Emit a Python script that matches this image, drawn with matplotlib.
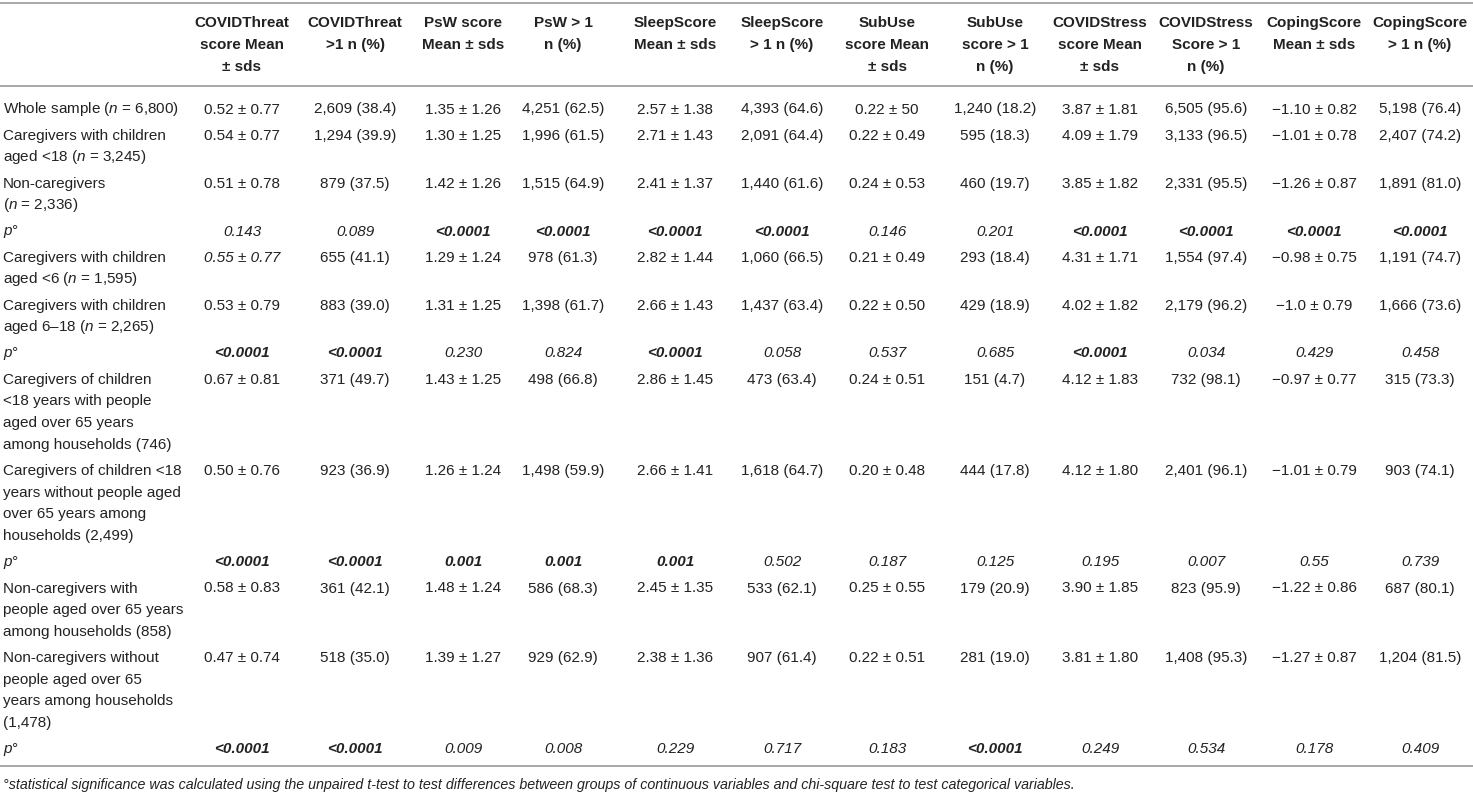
import matplotlib
matplotlib.use("Agg")
import matplotlib.pyplot as plt

plt.rcParams["font.family"] = ["Liberation Sans", "DejaVu Sans"]
plt.rcParams["mathtext.fontset"] = "custom"
plt.rcParams["mathtext.rm"] = "Liberation Sans"
plt.rcParams["mathtext.it"] = "Liberation Sans:italic"

# Table content
headers = [
    "COVIDThreat\nscore Mean\n± sds", "COVIDThreat\n>1 n (%)", "PsW score\nMean ± sds",
    "PsW > 1\nn (%)", "SleepScore\nMean ± sds", "SleepScore\n> 1 n (%)",
    "SubUse\nscore Mean\n± sds", "SubUse\nscore > 1\nn (%)", "COVIDStress\nscore Mean\n± sds",
    "COVIDStress\nScore > 1\nn (%)", "CopingScore\nMean ± sds", "CopingScore\n> 1 n (%)",
]

row_labels = [
    "Whole sample ($n$ = 6,800)",
    "Caregivers with children\naged <18 ($n$ = 3,245)",
    "Non-caregivers\n($n$ = 2,336)",
    "p°",
    "Caregivers with children\naged <6 ($n$ = 1,595)",
    "Caregivers with children\naged 6–18 ($n$ = 2,265)",
    "p°",
    "Caregivers of children\n<18 years with people\naged over 65 years\namong households (746)",
    "Caregivers of children <18\nyears without people aged\nover 65 years among\nhouseholds (2,499)",
    "p°",
    "Non-caregivers with\npeople aged over 65 years\namong households (858)",
    "Non-caregivers without\npeople aged over 65\nyears among households\n(1,478)",
    "p°",
]

whole = ["0.52 ± 0.77", "2,609 (38.4)", "1.35 ± 1.26", "4,251 (62.5)", "2.57 ± 1.38", "4,393 (64.6)",
         "0.22 ± 50", "1,240 (18.2)", "3.87 ± 1.81", "6,505 (95.6)", "−1.10 ± 0.82", "5,198 (76.4)"]
care_u18 = ["0.54 ± 0.77", "1,294 (39.9)", "1.30 ± 1.25", "1,996 (61.5)", "2.71 ± 1.43", "2,091 (64.4)",
            "0.22 ± 0.49", "595 (18.3)", "4.09 ± 1.79", "3,133 (96.5)", "−1.01 ± 0.78", "2,407 (74.2)"]
non_care = ["0.51 ± 0.78", "879 (37.5)", "1.42 ± 1.26", "1,515 (64.9)", "2.41 ± 1.37", "1,440 (61.6)",
            "0.24 ± 0.53", "460 (19.7)", "3.85 ± 1.82", "2,331 (95.5)", "−1.26 ± 0.87", "1,891 (81.0)"]
p_care = ["0.143", "0.089", "<0.0001", "<0.0001", "<0.0001", "<0.0001",
          "0.146", "0.201", "<0.0001", "<0.0001", "<0.0001", "<0.0001"]
care_u6 = ["0.55 ± 0.77", "655 (41.1)", "1.29 ± 1.24", "978 (61.3)", "2.82 ± 1.44", "1,060 (66.5)",
           "0.21 ± 0.49", "293 (18.4)", "4.31 ± 1.71", "1,554 (97.4)", "−0.98 ± 0.75", "1,191 (74.7)"]
care_6_18 = ["0.53 ± 0.79", "883 (39.0)", "1.31 ± 1.25", "1,398 (61.7)", "2.66 ± 1.43", "1,437 (63.4)",
             "0.22 ± 0.50", "429 (18.9)", "4.02 ± 1.82", "2,179 (96.2)", "−1.0 ± 0.79", "1,666 (73.6)"]
p_age = ["<0.0001", "<0.0001", "0.230", "0.824", "<0.0001", "0.058",
         "0.537", "0.685", "<0.0001", "0.034", "0.429", "0.458"]
care_old = ["0.67 ± 0.81", "371 (49.7)", "1.43 ± 1.25", "498 (66.8)", "2.86 ± 1.45", "473 (63.4)",
            "0.24 ± 0.51", "151 (4.7)", "4.12 ± 1.83", "732 (98.1)", "−0.97 ± 0.77", "315 (73.3)"]
care_no_old = ["0.50 ± 0.76", "923 (36.9)", "1.26 ± 1.24", "1,498 (59.9)", "2.66 ± 1.41", "1,618 (64.7)",
               "0.20 ± 0.48", "444 (17.8)", "4.12 ± 1.80", "2,401 (96.1)", "−1.01 ± 0.79", "903 (74.1)"]
p_care_old = ["<0.0001", "<0.0001", "0.001", "0.001", "0.001", "0.502",
              "0.187", "0.125", "0.195", "0.007", "0.55", "0.739"]
non_old = ["0.58 ± 0.83", "361 (42.1)", "1.48 ± 1.24", "586 (68.3)", "2.45 ± 1.35", "533 (62.1)",
           "0.25 ± 0.55", "179 (20.9)", "3.90 ± 1.85", "823 (95.9)", "−1.22 ± 0.86", "687 (80.1)"]
non_no_old = ["0.47 ± 0.74", "518 (35.0)", "1.39 ± 1.27", "929 (62.9)", "2.38 ± 1.36", "907 (61.4)",
              "0.22 ± 0.51", "281 (19.0)", "3.81 ± 1.80", "1,408 (95.3)", "−1.27 ± 0.87", "1,204 (81.5)"]
p_non_old = ["<0.0001", "<0.0001", "0.009", "0.008", "0.229", "0.717",
             "0.183", "<0.0001", "0.249", "0.534", "0.178", "0.409"]

rows = [whole, care_u18, non_care, p_care, care_u6, care_6_18, p_age,
        care_old, care_no_old, p_care_old, non_old, non_no_old, p_non_old]

footnote = ("°statistical significance was calculated using the unpaired t-test to test differences "
            "between groups of continuous variables and chi-square test to test categorical variables.")

# Layout (pixels)
W, H = 1473, 793
col_x = [242, 355, 463, 563, 675, 782, 887, 995, 1100, 1206, 1314, 1420]
label_x = 3
line_h = 21.7
row_pad = 4.5
first_row_y = 108
header_y = 21.7
cap_half = 5.5
fs = 11
txt_color = "#222222"
rule_color = "#a8a8a8"

fig = plt.figure(figsize=(W / 100, H / 100), dpi=100)
ax = fig.add_axes([0, 0, 1, 1])
ax.set_xlim(0, W)
ax.set_ylim(H, 0)
ax.axis("off")

# rules
for y in (3, 86, 766):
    ax.plot([0, W], [y, y], color=rule_color, lw=1.4, solid_capstyle="butt")

# header
for x, head in zip(col_x, headers):
    for k, line in enumerate(head.split("\n")):
        ax.text(x, header_y + k * line_h + cap_half, line, ha="center", va="baseline",
                fontsize=fs, fontweight="bold", color=txt_color)

# body
y = first_row_y
for i, (label, vals) in enumerate(zip(row_labels, rows)):
    is_p = label == "p°"
    lines = label.split("\n")
    for k, line in enumerate(lines):
        ax.text(label_x, y + k * line_h + cap_half, line, ha="left", va="baseline",
                fontsize=fs, color=txt_color, fontstyle="italic" if is_p else "normal")
    for j, (x, v) in enumerate(zip(col_x, vals)):
        style, weight = "normal", "normal"
        if is_p:
            style = "italic"
            if float(v.lstrip("<")) <= 0.001:
                weight = "bold"
        if (i, j) == (4, 0):
            style = "italic"
        ax.text(x, y + cap_half, v, ha="center", va="baseline", fontsize=fs,
                fontstyle=style, fontweight=weight, color=txt_color)
    y += len(lines) * line_h + row_pad

ax.text(label_x, 785 + 4.5, footnote, ha="left", va="baseline", fontsize=10.3,
        fontstyle="italic", color=txt_color)

fig.savefig("out.png", dpi=100)
